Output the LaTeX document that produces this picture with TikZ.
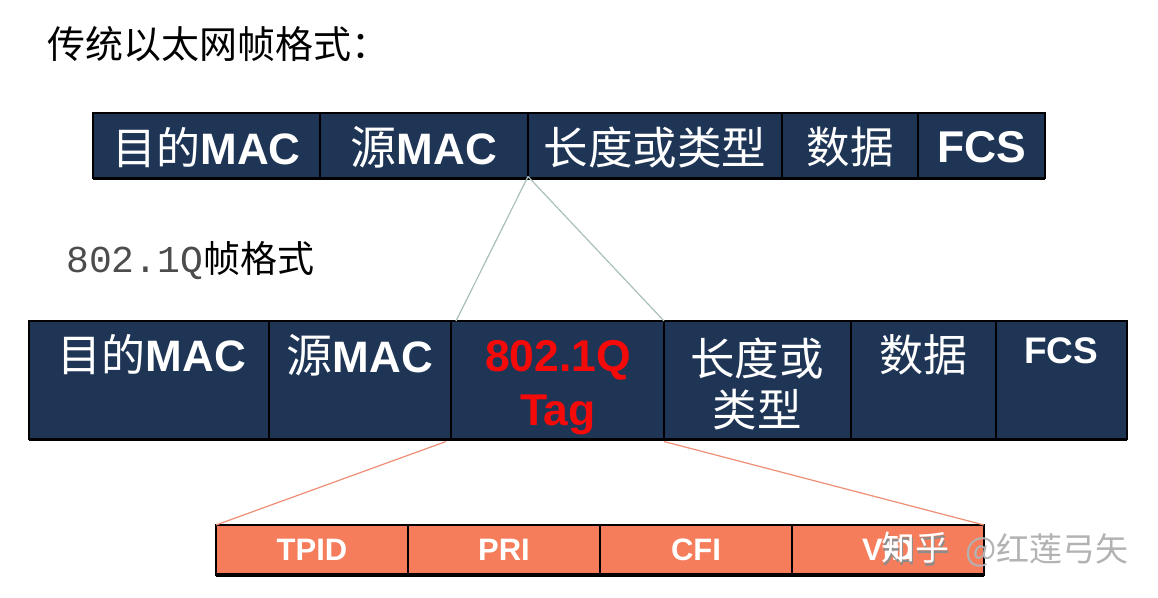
\documentclass[tikz,border=0pt]{standalone}
\usepackage{fontspec}
\setmainfont{Liberation Sans}
\setmonofont{Liberation Mono}
\newfontfamily\cjk{Noto Sans CJK SC}
\newcommand{\fs}[1]{\fontsize{#1}{#1}\selectfont}
\definecolor{navy}{HTML}{1F3556}
\definecolor{coral}{HTML}{F57D5B}
\definecolor{tealgrey}{HTML}{A9C0BB}
\definecolor{salmon}{HTML}{EE8F75}
\definecolor{tagred}{HTML}{F50A0A}
\tikzset{
  x=1pt,y=-1pt,
  cell/.style={draw=black,line width=1.2pt,anchor=north west,inner sep=0pt,outer sep=0pt},
  navycell/.style={cell,fill=navy},
  coralcell/.style={cell,fill=coral,text=white,font=\bfseries\fs{31}},
  lbl/.style={text=white,inner sep=0pt,font=\bfseries\fs{44}},
  cjklbl/.style={text=white,inner sep=0pt,font=\cjk\fs{44.5}},
  taglbl/.style={text=tagred,inner sep=0pt,font=\bfseries\fs{44.5}},
  heading/.style={anchor=west,inner sep=0pt,text=black},
  base/.style={line width=3.5pt,line cap=butt},
  linkgrey/.style={draw=tealgrey,line width=1.2pt},
  linkcoral/.style={draw=salmon,line width=1.2pt},
  wmark/.style={inner sep=0pt,font=\cjk\fs{34},text=white},
}
\begin{document}
\begin{tikzpicture}
\useasboundingbox (0,0) rectangle (1158,597);
\fill[white] (0,0) rectangle (1158,597);

\node[heading,font=\cjk\fs{38}] (title) at (47,44) {传统以太网帧格式：};
\node[heading] (subtitle) at (66,261) {\ttfamily\color{black!70}\fs{38}802.1Q\cjk\color{black}\fs{37}帧格式};

% top row
\node[navycell,minimum width=227,minimum height=65.5] (a1) at (93,113) {};
\node[navycell,minimum width=208,minimum height=65.5] (a2) at (320,113) {};
\node[navycell,minimum width=254,minimum height=65.5] (a3) at (528,113) {};
\node[navycell,minimum width=136,minimum height=65.5] (a4) at (782,113) {};
\node[navycell,minimum width=127,minimum height=65.5] (a5) at (918,113) {};
\draw[base] (a1.south west) -- (a5.south east);
\node[lbl,yshift=-1.5] (a1t) at (a1.center) {\cjk\mdseries\fs{44}目的\bfseries\rmfamily\fs{44}MAC};
\node[lbl,yshift=-1.5] (a2t) at (a2.center) {\cjk\mdseries\fs{46}源\bfseries\rmfamily\fs{44}MAC};
\node[cjklbl,yshift=-1.5] (a3t) at (a3.center) {长度或类型};
\node[cjklbl,yshift=-1.5,font=\cjk\fs{43.5}] (a4t) at (a4.center) {数据};
\node[lbl,yshift=-1.5,font=\bfseries\fs{44.5}] (a5t) at (a5.center) {FCS};

% middle row
\node[navycell,minimum width=240,minimum height=118.5] (b1) at (29,321) {};
\node[navycell,minimum width=182,minimum height=118.5] (b2) at (269,321) {};
\node[navycell,minimum width=213,minimum height=118.5] (b3) at (451,321) {};
\node[navycell,minimum width=187,minimum height=118.5] (b4) at (664,321) {};
\node[navycell,minimum width=145,minimum height=118.5] (b5) at (851,321) {};
\node[navycell,minimum width=131,minimum height=118.5] (b6) at (996,321) {};
\draw[base] (b1.south west) -- (b6.south east);
\node[lbl] (b1t) at (152,355) {\cjk\mdseries\fs{44}目的\bfseries\rmfamily\fs{44}MAC};
\node[lbl] (b2t) at (360,355) {\cjk\mdseries\fs{46}源\bfseries\rmfamily\fs{44}MAC};
\node[taglbl] (b3a) at (558,360) {802.1Q};
\node[taglbl] (b3b) at (558,415) {Tag};
\node[cjklbl] (b4a) at (757,358) {长度或};
\node[cjklbl] (b4b) at (757,410) {类型};
\node[cjklbl,font=\cjk\fs{44}] (b5t) at (923,355) {数据};
\node[lbl,font=\bfseries\fs{37}] (b6t) at (1061,351) {FCS};

% bottom row
\node[coralcell,minimum width=192,minimum height=50] (c1) at (216,525) {TPID};
\node[coralcell,minimum width=192,minimum height=50] (c2) at (408,525) {PRI};
\node[coralcell,minimum width=192,minimum height=50] (c3) at (600,525) {CFI};
\node[coralcell,minimum width=192,minimum height=50] (c4) at (792,525) {VID};
\draw[base] (c1.south west) -- (c4.south east);

% connectors
\draw[linkgrey] ([yshift=2]a3.south west) -- ([xshift=5]b3.north west);
\draw[linkgrey] ([yshift=2]a3.south west) -- (b3.north east);
\draw[linkcoral] ([xshift=-5,yshift=-2]b3.south west) -- (c1.north west);
\draw[linkcoral] ([yshift=-2]b3.south east) -- (c4.north east);

% watermark
\node[wmark,anchor=west,xshift=1.5,yshift=-1.5,text=black!45] (wms) at (881,549) {知乎};
\node[wmark,anchor=west] (wm) at (881,547.5) {知乎};
\node[wmark,anchor=west,text=black!30,font=\cjk\fs{33}] (wm2) at (965,550) {@红莲弓矢};
\end{tikzpicture}
\end{document}
